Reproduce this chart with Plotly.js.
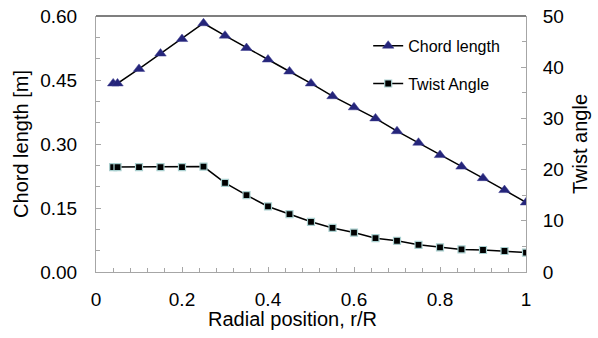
<!DOCTYPE html>
<html>
<head>
<meta charset="utf-8">
<script src="https://cdn.plot.ly/plotly-3.0.1.min.js"></script>
<style>html,body{margin:0;padding:0;background:#fff;}#chart{width:598px;height:338px;}</style>
</head>
<body>
<div id="chart"></div>
<script>
const radialPos = [0.04,0.05,0.10,0.15,0.20,0.25,0.30,0.35,0.40,0.45,0.50,0.55,0.60,0.65,0.70,0.75,0.80,0.85,0.90,0.95,1.00];
const chordLength = [0.442,0.442,0.476,0.512,0.546,0.583,0.554,0.525,0.498,0.470,0.442,0.412,0.386,0.360,0.330,0.303,0.274,0.247,0.220,0.192,0.163];
const twistAngle = [20.5,20.5,20.5,20.5,20.5,20.6,17.4,15.0,12.8,11.3,9.8,8.6,7.7,6.6,6.1,5.3,4.8,4.4,4.3,4.1,3.8];
const seriesNames = ["Chord length","Twist Angle"];

const FONT = "Liberation Sans, Arial, sans-serif";
const traces = [
  {x: radialPos, y: chordLength, name: seriesNames[0], type: "scatter", mode: "lines+markers",
   legendgroup: "a",
   line: {color: "#000000", width: 1.5},
   marker: {symbol: "triangle-up", size: 10, color: "#25257a", line: {color: "#3a3a90", width: 0.5}}},
  {x: radialPos, y: twistAngle, name: seriesNames[1], type: "scatter", mode: "lines+markers",
   yaxis: "y2", legendgroup: "b",
   line: {color: "#000000", width: 1.5},
   marker: {symbol: "square", size: 7, color: "#000000", line: {color: "#a9cfcf", width: 1.2}}}
];
const axisCommon = {
  showgrid: false, zeroline: false, showline: true, linecolor: "#a6a6a6", linewidth: 1,
  ticks: "inside", ticklen: 5, tickcolor: "#a6a6a6", tickwidth: 1,
  tickfont: {family: FONT, size: 19, color: "#000"}
};
const layout = {
  width: 598, height: 338,
  margin: {l: 96, r: 72, t: 16, b: 66},
  paper_bgcolor: "#fff", plot_bgcolor: "#fff",
  showlegend: true,
  legend: {x: 0.633, y: 0.95, xanchor: "left", yanchor: "top", bgcolor: "rgba(0,0,0,0)",
           font: {family: FONT, size: 16, color: "#000"}, traceorder: "grouped", tracegroupgap: 14},
  xaxis: Object.assign({}, axisCommon, {
    range: [0, 1], dtick: 0.2, tick0: 0, tickformat: "",
    minor: {dtick: 0.04, ticks: "inside", ticklen: 4, tickcolor: "#a6a6a6"},
    ticklabelstandoff: 10
  }),
  yaxis: Object.assign({}, axisCommon, {
    range: [0, 0.6], dtick: 0.15, tick0: 0, tickformat: ".2f",
    minor: {dtick: 0.05, ticks: "inside", ticklen: 4, tickcolor: "#a6a6a6"},
    ticklabelstandoff: 14,
    title: {text: "Chord length [m]", font: {family: FONT, size: 20, color: "#000"}, standoff: 6}
  }),
  yaxis2: Object.assign({}, axisCommon, {
    overlaying: "y", side: "right",
    range: [0, 50], dtick: 10, tick0: 0,
    minor: {dtick: 5, ticks: "inside", ticklen: 4, tickcolor: "#a6a6a6"},
    ticklabelstandoff: 12,
    title: {text: "Twist angle", font: {family: FONT, size: 20, color: "#000"}, standoff: 10}
  }),
  annotations: [{text: "Radial position, r/R", xref: "paper", yref: "paper", x: 0.458, y: -0.185,
                 xanchor: "center", yanchor: "middle", showarrow: false,
                 font: {family: FONT, size: 20, color: "#000"}}],
  shapes: [{type: "line", xref: "paper", yref: "paper", x0: 0, x1: 1, y0: 1, y1: 1,
            line: {color: "#000000", width: 1.2}}]
};
Plotly.newPlot("chart", traces, layout, {staticPlot: true, displayModeBar: false});
</script>
</body>
</html>
